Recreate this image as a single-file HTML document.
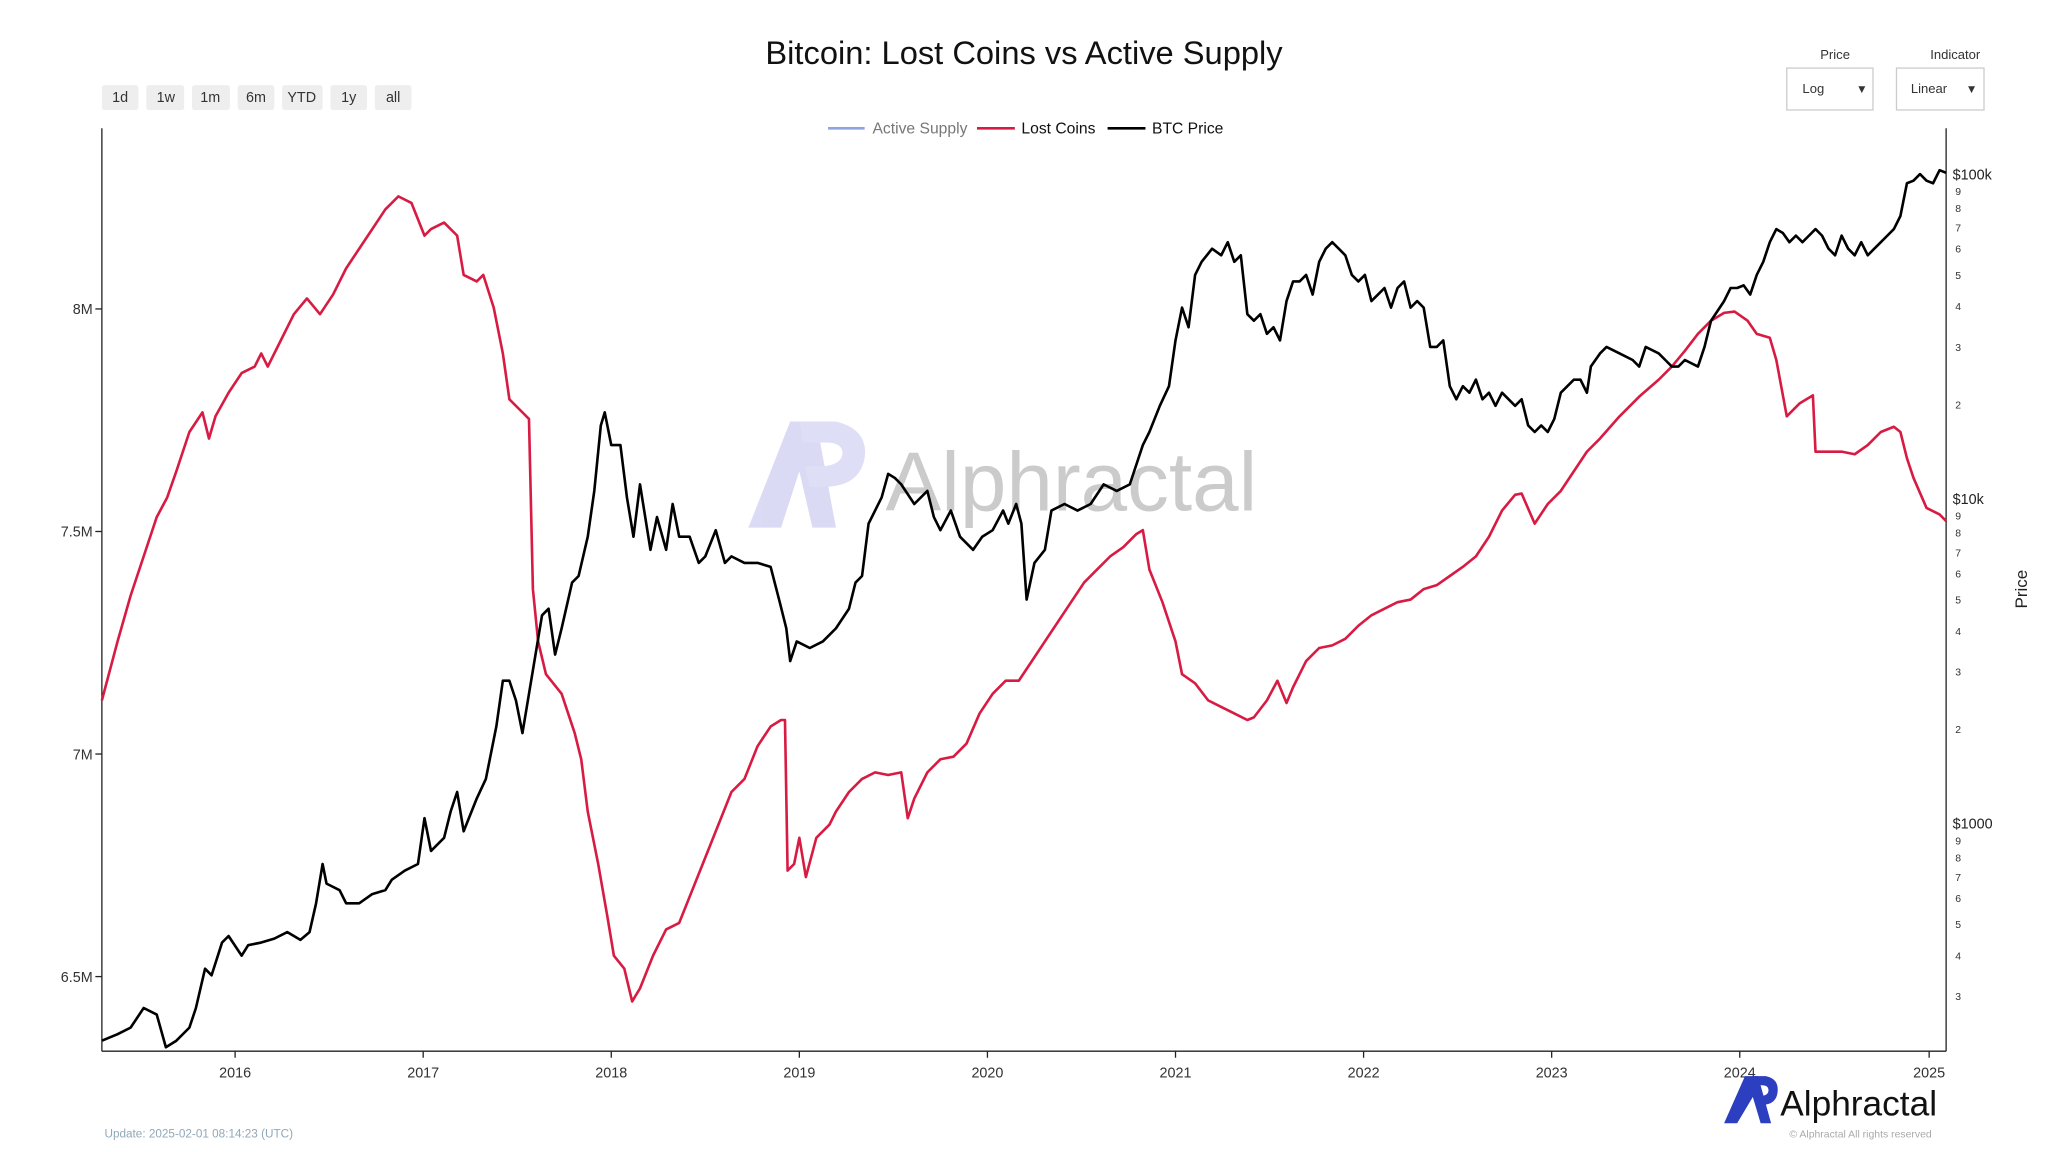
<!DOCTYPE html>
<html><head><meta charset="utf-8"><style>
html,body{margin:0;padding:0;background:#fff;}
svg{display:block;font-family:"Liberation Sans",sans-serif;}
</style></head><body>
<svg width="2048" height="1152" viewBox="0 0 1568 880" preserveAspectRatio="none" xmlns="http://www.w3.org/2000/svg">
<rect width="1568" height="880" fill="#fff"/>
<text x="784" y="49" font-size="25" text-anchor="middle" fill="#111">Bitcoin: Lost Coins vs Active Supply</text>
<g font-size="11" fill="#333" text-anchor="middle">
<rect x="78" y="65" width="28" height="19" rx="2" fill="#eee"/><text x="92" y="78">1d</text>
<rect x="112" y="65" width="29" height="19" rx="2" fill="#eee"/><text x="127" y="78">1w</text>
<rect x="147" y="65" width="29" height="19" rx="2" fill="#eee"/><text x="161" y="78">1m</text>
<rect x="182" y="65" width="28" height="19" rx="2" fill="#eee"/><text x="196" y="78">6m</text>
<rect x="216" y="65" width="31" height="19" rx="2" fill="#eee"/><text x="231" y="78">YTD</text>
<rect x="253" y="65" width="28" height="19" rx="2" fill="#eee"/><text x="267" y="78">1y</text>
<rect x="287" y="65" width="28" height="19" rx="2" fill="#eee"/><text x="301" y="78">all</text>
</g>
<g font-size="10" fill="#333">
<text x="1405" y="45" text-anchor="middle">Price</text>
<text x="1497" y="45" text-anchor="middle">Indicator</text>
<rect x="1368" y="52" width="66" height="32" fill="#fff" stroke="#ccc"/>
<text x="1380" y="71">Log</text><text x="1421" y="71" font-size="9">▼</text>
<rect x="1452" y="52" width="67" height="32" fill="#fff" stroke="#ccc"/>
<text x="1463" y="71">Linear</text><text x="1505" y="71" font-size="9">▼</text>
</g>
<g font-size="12">
<line x1="634" y1="98" x2="662" y2="98" stroke="#8fa3e0" stroke-width="2"/><text x="668" y="102" fill="#777">Active Supply</text>
<line x1="748" y1="98" x2="777" y2="98" stroke="#d81b43" stroke-width="2"/><text x="782" y="102" fill="#111">Lost Coins</text>
<line x1="848" y1="98" x2="877" y2="98" stroke="#000" stroke-width="2"/><text x="882" y="102" fill="#111">BTC Price</text>
</g>
<g opacity="0.25">
<polygon points="573,403 605,322 625,322 640,403 622,403 612,360 598,403" fill="#6f6fd8"/>
<path d="M612,322 L640,322 Q665,328 662,350 Q658,372 630,372 L620,372 L616,356 L632,356 Q645,354 645,346 Q645,338 632,338 L615,338 Z" fill="#8080e0"/>
<text x="678" y="390" font-size="64" fill="#333">Alphractal</text>
</g>
<line x1="78" y1="98" x2="78" y2="803" stroke="#222"/>
<line x1="78" y1="803" x2="1490" y2="803" stroke="#222"/>
<line x1="1490" y1="98" x2="1490" y2="803" stroke="#222"/>
<g font-size="11" fill="#333" text-anchor="end">
<text x="71" y="240">8M</text><text x="71" y="410">7.5M</text><text x="71" y="580">7M</text><text x="71" y="750">6.5M</text>
</g>
<g stroke="#222"><line x1="73" y1="236" x2="78" y2="236"/><line x1="73" y1="406" x2="78" y2="406"/><line x1="73" y1="576" x2="78" y2="576"/><line x1="73" y1="746" x2="78" y2="746"/></g>
<g font-size="11" fill="#333" text-anchor="middle">
<text x="180" y="823">2016</text><text x="324" y="823">2017</text><text x="468" y="823">2018</text><text x="612" y="823">2019</text><text x="756" y="823">2020</text><text x="900" y="823">2021</text><text x="1044" y="823">2022</text><text x="1188" y="823">2023</text><text x="1332" y="823">2024</text><text x="1477" y="823">2025</text>
</g>
<g stroke="#222"><line x1="180" y1="803" x2="180" y2="808"/><line x1="324" y1="803" x2="324" y2="808"/><line x1="468" y1="803" x2="468" y2="808"/><line x1="612" y1="803" x2="612" y2="808"/><line x1="756" y1="803" x2="756" y2="808"/><line x1="900" y1="803" x2="900" y2="808"/><line x1="1044" y1="803" x2="1044" y2="808"/><line x1="1188" y1="803" x2="1188" y2="808"/><line x1="1332" y1="803" x2="1332" y2="808"/><line x1="1477" y1="803" x2="1477" y2="808"/></g>
<g font-size="11" fill="#222"><text x="1495" y="137">$100k</text><text x="1495" y="385">$10k</text><text x="1495" y="633">$1000</text></g>
<g font-size="8" fill="#333">
<text x="1497" y="149">9</text><text x="1497" y="162">8</text><text x="1497" y="177">7</text><text x="1497" y="193">6</text><text x="1497" y="213">5</text><text x="1497" y="237">4</text><text x="1497" y="268">3</text><text x="1497" y="312">2</text>
<text x="1497" y="397">9</text><text x="1497" y="410">8</text><text x="1497" y="425">7</text><text x="1497" y="441">6</text><text x="1497" y="461">5</text><text x="1497" y="485">4</text><text x="1497" y="516">3</text><text x="1497" y="560">2</text>
<text x="1497" y="645">9</text><text x="1497" y="658">8</text><text x="1497" y="673">7</text><text x="1497" y="689">6</text><text x="1497" y="709">5</text><text x="1497" y="733">4</text><text x="1497" y="764">3</text>
</g>
<text x="1552" y="450" font-size="13" fill="#222" text-anchor="middle" transform="rotate(-90 1552 450)">Price</text>
<polyline fill="none" stroke="#d81b43" stroke-width="2" stroke-linejoin="round" points="78,535 82,520 90,490 100,455 110,425 120,395 128,380 135,360 145,330 155,315 160,335 165,318 175,300 185,285 195,280 200,270 205,280 215,260 225,240 235,228 245,240 255,225 265,205 275,190 285,175 295,160 305,150 315,155 325,180 330,175 340,170 350,180 355,210 365,215 370,210 378,235 385,270 390,305 400,315 405,320 408,450 412,490 418,515 430,530 440,560 445,580 450,620 458,660 465,700 470,730 478,740 484,765 490,755 500,730 510,710 520,705 530,680 540,655 550,630 560,605 570,595 580,570 590,555 598,550 601,550 603,665 608,660 612,640 617,670 625,640 635,630 640,620 650,605 660,595 670,590 680,592 690,590 695,625 700,610 710,590 720,580 730,578 740,568 750,545 760,530 770,520 780,520 790,505 800,490 810,475 820,460 830,445 840,435 850,425 860,418 870,408 875,405 880,435 890,460 900,490 905,515 915,522 925,535 935,540 945,545 955,550 960,548 970,535 978,520 985,537 990,525 1000,505 1010,495 1020,493 1030,488 1040,478 1050,470 1060,465 1070,460 1080,458 1090,450 1100,447 1110,440 1120,433 1130,425 1140,410 1150,390 1160,378 1165,377 1175,400 1185,385 1195,375 1205,360 1215,345 1225,335 1240,318 1255,303 1270,290 1280,280 1290,268 1300,255 1310,245 1320,239 1328,238 1338,245 1345,255 1355,258 1360,275 1368,318 1378,308 1388,302 1390,345 1400,345 1410,345 1420,347 1430,340 1440,330 1450,326 1455,330 1460,350 1465,365 1475,388 1485,393 1490,398"/>
<polyline fill="none" stroke="#000" stroke-width="2" stroke-linejoin="round" points="78,795 90,790 100,785 110,770 120,775 127,800 135,795 145,785 150,770 157,740 162,745 170,720 175,715 185,730 190,722 200,720 210,717 220,712 230,718 237,712 242,690 247,660 250,675 260,680 265,690 275,690 285,683 295,680 300,672 310,665 320,660 325,625 330,650 340,640 345,620 350,605 355,635 365,610 372,595 380,555 385,520 390,520 395,535 400,560 405,530 410,500 415,470 420,465 425,500 430,480 438,445 443,440 450,410 455,375 460,325 463,315 468,340 475,340 480,380 485,410 490,370 498,420 503,395 510,420 515,385 520,410 528,410 535,430 540,425 548,405 555,430 560,425 570,430 580,430 590,433 597,460 602,480 605,505 610,490 620,495 630,490 640,480 650,465 655,445 660,440 665,400 670,390 675,380 680,362 685,365 690,370 700,385 710,375 715,395 720,405 728,390 735,410 745,420 752,410 760,405 768,390 772,400 778,385 782,400 786,458 792,430 800,420 805,390 815,385 825,390 835,385 845,370 855,375 865,370 875,340 880,330 888,310 895,295 900,260 905,235 910,250 915,210 920,200 928,190 935,195 940,185 945,200 950,195 955,240 960,245 965,240 970,255 975,250 980,260 985,230 990,215 995,215 1000,210 1005,225 1010,200 1015,190 1020,185 1025,190 1030,195 1035,210 1040,215 1045,210 1050,230 1055,225 1060,220 1065,235 1070,220 1075,215 1080,235 1085,230 1090,235 1095,265 1100,265 1105,260 1110,295 1115,305 1120,295 1125,300 1130,290 1135,305 1140,300 1145,310 1150,300 1160,310 1165,305 1170,325 1175,330 1180,325 1185,330 1190,320 1195,300 1200,295 1205,290 1210,290 1215,300 1218,280 1225,270 1230,265 1240,270 1250,275 1255,280 1260,265 1270,270 1275,275 1280,280 1285,280 1290,275 1300,280 1305,265 1310,245 1320,230 1325,220 1330,220 1335,218 1340,225 1345,210 1350,200 1355,185 1360,175 1365,178 1370,185 1375,180 1380,185 1385,180 1390,175 1395,180 1400,190 1405,195 1410,180 1415,190 1420,195 1425,185 1430,195 1435,190 1440,185 1445,180 1450,175 1455,165 1460,140 1465,138 1470,133 1475,138 1480,140 1485,130 1490,132"/>
<text x="80" y="869" font-size="9" fill="#8fa8b8">Update: 2025-02-01 08:14:23 (UTC)</text>
<polygon points="1320,858 1336,822 1346,822 1356,858 1348,858 1342,838 1330,858" fill="#2c3fc0"/>
<path d="M1341,822 L1352,822 Q1362,824 1361,834 Q1360,844 1349,844 L1345,844 L1343,837 L1350,837 Q1354,836 1354,833 Q1354,829 1349,829 L1343,829 Z" fill="#2c3fc0"/>
<text x="1363" y="852" font-size="27" fill="#111">Alphractal</text>
<text x="1370" y="869" font-size="8" fill="#aaa">© Alphractal All rights reserved</text>
</svg>
</body></html>
